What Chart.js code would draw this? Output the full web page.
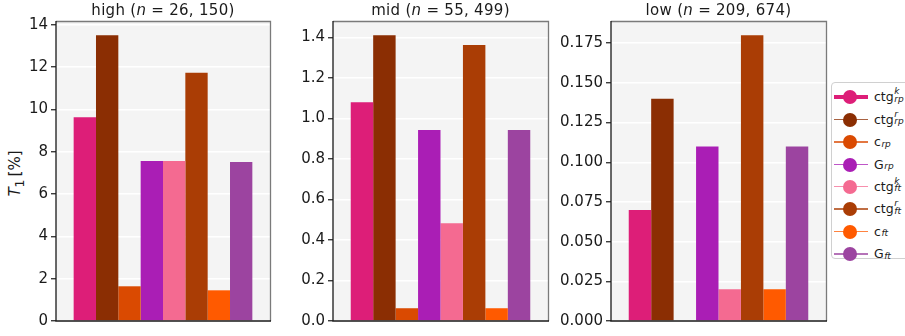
<!DOCTYPE html>
<html>
<head>
<meta charset="utf-8">
<script src="https://cdn.jsdelivr.net/npm/chart.js@4.4.1/dist/chart.umd.min.js"></script>
<style>
body { margin: 0; width: 905px; height: 336px; overflow: hidden; background: #fff; font-family: "DejaVu Sans", sans-serif; color: #1a1a1a; }
.panel { position: absolute; top: 0; height: 336px; }
.title { position: absolute; top: 1px; width: 240px; font-size: 15px; line-height: 18px; text-align: center; white-space: nowrap; letter-spacing: 0.3px; }
.title .eq { margin: 0 5px; }
#ylab { position: absolute; left: -13px; top: 161px; width: 60px; font-size: 15px; line-height: 20px; text-align: center; transform: rotate(-90deg); white-space: nowrap; }
#legend { position: absolute; left: 831px; top: 82px; width: 90px; height: 175px; border: 1px solid #d0d0d0; border-radius: 4px; background: #fff; }
.row { position: absolute; left: 0; height: 22px; width: 90px; }
.row .ln { position: absolute; left: 2px; width: 34px; top: 10px; height: 1.5px; opacity: 0.75; }
.row .dot { position: absolute; left: 11px; top: 4px; width: 14px; height: 14px; border-radius: 50%; }
.row .tx { position: absolute; left: 42px; top: 0px; font-size: 12.5px; line-height: 22px; white-space: nowrap; }
.ss { display: inline-block; position: relative; width: 14px; height: 22px; vertical-align: top; }
.ss span { position: absolute; left: 0.5px; font-size: 9px; line-height: 9px; font-style: italic; }
.ss .sp { top: 1px; }
.ss .sb { top: 8.5px; }
</style>
</head>
<body>
<div id="ylab"><i>T</i><sub>1</sub>&thinsp;[%]</div>
<div id="legend"></div>

<script>
// series (legend) names: main text, superscript, subscript
var seriesMain = ["ctg", "ctg", "c", "G", "ctg", "ctg", "c", "G"];
var seriesSup = ["k", "r", "", "", "k", "r", "", ""];
var seriesSub = ["rp", "rp", "rp", "rp", "ft", "ft", "ft", "ft"];
var barColors = ["#dd1e78", "#8b2e03", "#da4a01", "#aa1eb5", "#f46a91", "#aa3d05", "#ff5a00", "#9c44a0"];

// panel groups
var groups = ["high", "mid", "low"];
var groupN = ["26, 150", "55, 499", "209, 674"];

// T1 [%] per series, one array per group
var highValues = [9.63, 13.5, 1.64, 7.56, 7.56, 11.73, 1.45, 7.51];
var midValues = [1.08, 1.41, 0.063, 0.942, 0.483, 1.362, 0.063, 0.942];
var lowValues = [0.07, 0.14, 0.0, 0.11, 0.02, 0.18, 0.02, 0.11];

// y axis ranges and ticks
var yMax = [14.175, 1.4805, 0.189];
var yStep = [2, 0.2, 0.025];
var yDecimals = [0, 1, 3];

var allValues = [highValues, midValues, lowValues];
var plotLeft = [56, 333, 611];
var plotWidth = [214, 215, 215];
var axisW = 52;

var framePlugin = {
	id: "frame",
	beforeDraw: function (chart) {
		var a = chart.chartArea, ctx = chart.ctx;
		ctx.save();
		ctx.fillStyle = "#f4f4f4";
		ctx.fillRect(a.left, a.top, a.right - a.left, a.bottom - a.top);
		ctx.restore();
	},
	afterDatasetsDraw: function (chart) {
		var a = chart.chartArea, ctx = chart.ctx;
		ctx.save();
		ctx.lineWidth = 1.3;
		ctx.strokeStyle = "#7a7a7a";
		ctx.beginPath();
		ctx.moveTo(a.left, a.top + 0.5);
		ctx.lineTo(a.right + 0.5, a.top + 0.5);
		ctx.lineTo(a.right + 0.5, a.bottom);
		ctx.stroke();
		ctx.strokeStyle = "#1a1a1a";
		ctx.beginPath();
		ctx.moveTo(a.left, a.top);
		ctx.lineTo(a.left, a.bottom);
		ctx.lineTo(a.right + 1, a.bottom);
		ctx.stroke();
		ctx.restore();
	}
};

for (var p = 0; p < 3; p++) {
	var box = document.createElement("div");
	box.className = "panel";
	box.style.left = (plotLeft[p] - axisW) + "px";
	box.style.width = (axisW + plotWidth[p] + 4) + "px";
	var cv = document.createElement("canvas");
	box.appendChild(cv);
	document.body.appendChild(box);

	var t = document.createElement("div");
	t.className = "title";
	t.style.left = (plotLeft[p] + plotWidth[p] / 2 - 120) + "px";
	t.innerHTML = groups[p] + " (<i>n</i><span class='eq'>=</span>" + groupN[p] + ")";
	document.body.appendChild(t);

	var datasets = [];
	for (var s = 0; s < seriesMain.length; s++) {
		datasets.push({
			label: seriesMain[s] + seriesSup[s] + "_" + seriesSub[s],
			data: [allValues[p][s]],
			backgroundColor: barColors[s],
			borderWidth: 0,
			barPercentage: 1,
			categoryPercentage: 0.835
		});
	}

	(function (p) {
		new Chart(cv, {
			type: "bar",
			data: { labels: [groups[p]], datasets: datasets },
			plugins: [framePlugin],
			options: {
				responsive: true,
				maintainAspectRatio: false,
				animation: false,
				layout: { padding: { top: 21, bottom: 15, right: 4, left: 0 } },
				plugins: { legend: { display: false }, tooltip: { enabled: false } },
				scales: {
					x: { display: false },
					y: {
						min: 0,
						max: yMax[p],
						afterFit: function (scale) { scale.width = axisW; },
						border: { display: false },
						grid: { color: "#ffffff", lineWidth: 1.5, tickColor: "#1a1a1a", tickLength: 5, tickWidth: 1.2 },
						ticks: {
							stepSize: yStep[p],
							includeBounds: false,
							padding: 3,
							color: "#1a1a1a",
							font: { family: "DejaVu Sans", size: 15 },
							callback: function (v) { return Number(v).toFixed(yDecimals[p]); }
						}
					}
				}
			}
		});
	})(p);
}

// legend rows
var leg = document.getElementById("legend");
for (var i = 0; i < seriesMain.length; i++) {
	var row = document.createElement("div");
	row.className = "row";
	row.style.top = (3.3 + i * 22.4) + "px";
	var ln = document.createElement("div");
	ln.className = "ln";
	ln.style.background = barColors[i];
	if (i == 0) { ln.style.height = "4px"; ln.style.top = "9px"; ln.style.opacity = 1; }
	var dot = document.createElement("div");
	dot.className = "dot";
	dot.style.background = barColors[i];
	var tx = document.createElement("div");
	tx.className = "tx";
	tx.innerHTML = seriesMain[i] + "<span class='ss'><span class='sp'>" + seriesSup[i] +
		"</span><span class='sb'>" + seriesSub[i] + "</span></span>";
	row.appendChild(ln);
	row.appendChild(dot);
	row.appendChild(tx);
	leg.appendChild(row);
}
</script>
</body>
</html>
